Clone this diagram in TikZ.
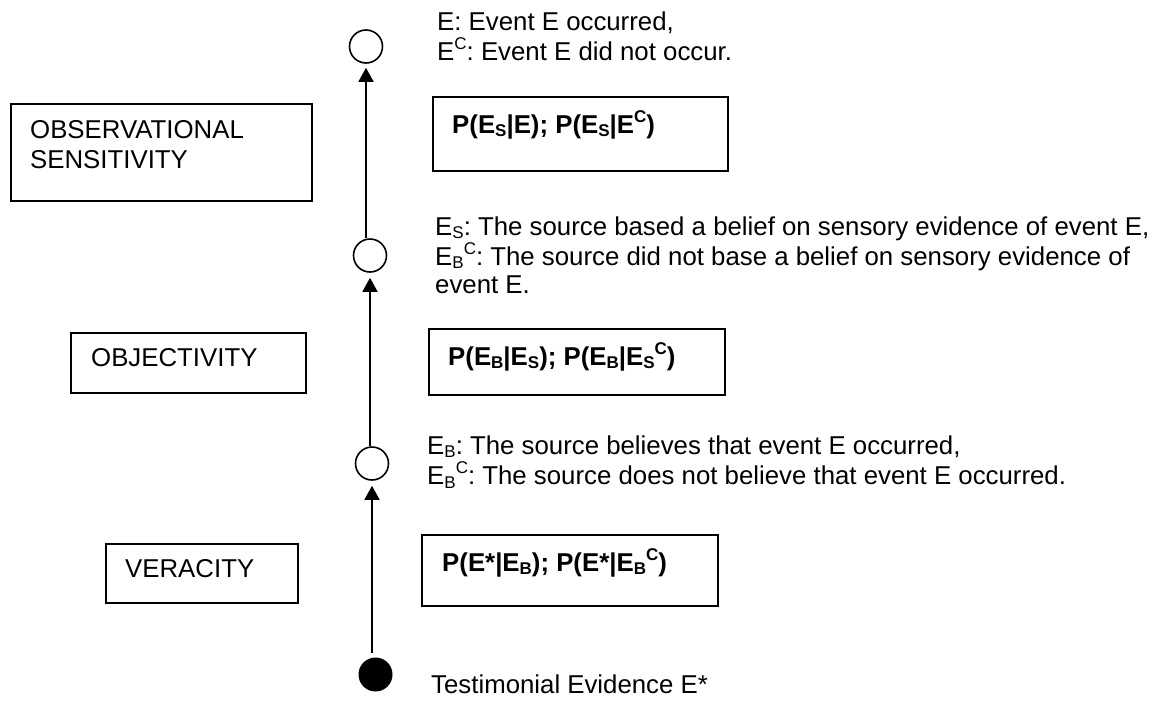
\documentclass[tikz,border=0pt]{standalone}
\usepackage{fontspec}
\setmainfont{Liberation Sans}
\usetikzlibrary{arrows.meta}
\frenchspacing
% small lowered / raised letters for event indices
\newcommand\lowtxt[1]{\raisebox{-3.5pt}{\fontsize{17}{17}\selectfont #1}}
\newcommand\hightxt[1]{\raisebox{11pt}{\fontsize{17}{17}\selectfont #1}}

\begin{document}
\begin{tikzpicture}[x=1pt,y=-1pt,
  every node/.style={inner sep=0pt, font=\fontsize{25.8}{30}\selectfont},
  txt/.style={anchor=base west},
  framebox/.style={draw, line width=1.5pt, anchor=north west},
  state/.style={circle, draw, line width=1.6pt, minimum size=33pt},
  evidence/.style={circle, fill, minimum size=34pt},
  link/.style={line width=1.7pt, -{Triangle[width=15pt,length=14pt]}}
]
\useasboundingbox (0,0) rectangle (1167,702);

% chain of events
\node[state] (c1) at (366,46.5) {};
\node[state] (c2) at (370,255.5) {};
\node[state] (c3) at (372,463.5) {};
\node[evidence] (ev) at (375.5,674.5) {};

\draw[link, shorten >=4pt] (c1 |- c2.north) -- (c1.south);
\draw[link, shorten >=5pt] (c2 |- c3.north) -- (c2.south);
\draw[link, shorten <=4pt, shorten >=5pt] (c3 |- ev.north) -- (c3.south);

% attribute boxes on the left
\node[framebox, minimum width=301pt, minimum height=97pt] (bobs) at (10,103) {};
\node[framebox, minimum width=235pt, minimum height=60pt] (bobj) at (70,332) {};
\node[framebox, minimum width=192pt, minimum height=59pt] (bver) at (105,543) {};
\node[txt] (tobs1) at (30,138) {OBSERVATIONAL};
\node[txt] (tobs2) at (30,168) {SENSITIVITY};
\node[txt] (tobj) at (91,366) {OBJECTIVITY};
\node[txt] (tver) at (125,577) {VERACITY};

% likelihood boxes
\node[framebox, minimum width=295pt, minimum height=74pt] (p1) at (432,96) {};
\node[framebox, minimum width=296pt, minimum height=66pt] (p2) at (428,328) {};
\node[framebox, minimum width=296pt, minimum height=71pt] (p3) at (421,534) {};
\node[txt, font=\fontsize{25.8}{30}\selectfont\bfseries] (tp1) at (452,133)
  {P(E\lowtxt{S}|E); P(E\lowtxt{S}|E\hightxt{C})};
\node[txt, font=\fontsize{25.8}{30}\selectfont\bfseries] (tp2) at (448,365)
  {P(E\lowtxt{B}|E\lowtxt{S}); P(E\lowtxt{B}|E\lowtxt{S}\hightxt{C})};
\node[txt, font=\fontsize{25.8}{30}\selectfont\bfseries] (tp3) at (442,571)
  {P(E*|E\lowtxt{B}); P(E*|E\lowtxt{B}\hightxt{C})};

% event descriptions
\node[txt] (e1a) at (437,30.4) {E: Event E occurred,};
\node[txt] (e1b) at (437,60.4) {E\hightxt{C}: Event E did not occur.};
\node[txt] (e2a) at (435,235) {E\lowtxt{S}: The source based a belief on sensory evidence of event E,};
\node[txt] (e2b) at (435,265) {E\lowtxt{B}\hightxt{C}: The source did not base a belief on sensory evidence of};
\node[txt] (e2c) at (435,293) {event E.};
\node[txt] (e3a) at (427,454) {E\lowtxt{B}: The source believes that event E occurred,};
\node[txt] (e3b) at (427,484.5) {E\lowtxt{B}\hightxt{C}: The source does not believe that event E occurred.};
\node[txt] (tev) at (431,693.5) {Testimonial Evidence E*};
\end{tikzpicture}
\end{document}
